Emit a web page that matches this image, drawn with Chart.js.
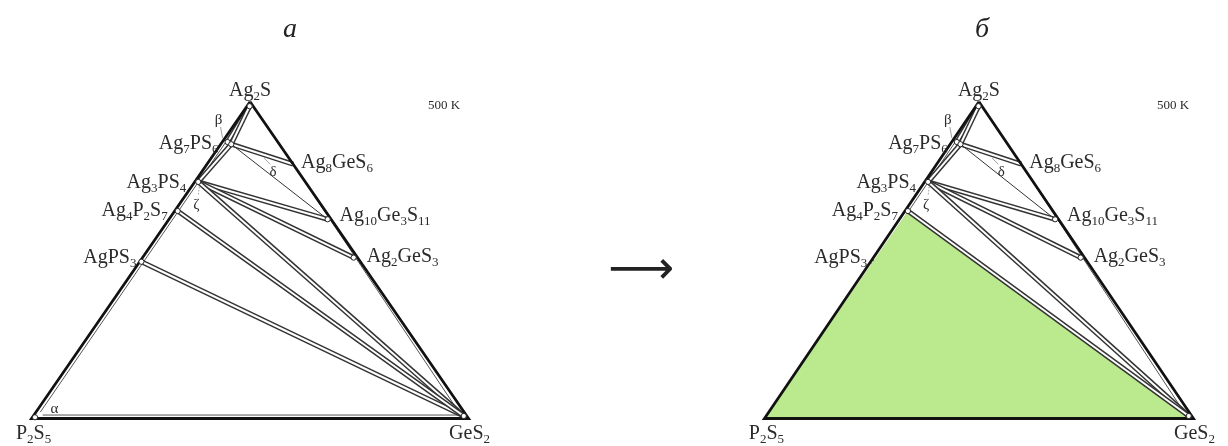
<!DOCTYPE html>
<html>
<head>
<meta charset="utf-8">
<script src="https://cdn.jsdelivr.net/npm/chart.js@4.4.1/dist/chart.umd.min.js"></script>
<style>
  body { margin: 0; background: #fff; }
  #page { position: relative; width: 1228px; height: 446px; overflow: hidden; font-family: "Liberation Serif", serif; color: #222; }
  canvas { position: absolute; top: 0; }
  .tag { position: absolute; top: 14px; font-style: italic; font-size: 28px; line-height: 28px; }
  .arrow { position: absolute; left: 608px; top: 244px; font-family: "DejaVu Sans", sans-serif; font-size: 46px; line-height: 46px; }
</style>
</head>
<body>
<div id="page">
  <canvas id="left" width="560" height="446" style="left:0"></canvas>
  <canvas id="right" width="628" height="446" style="left:600px"></canvas>
  <div class="tag" style="left:283px">а</div>
  <div class="tag" style="left:975px">б</div>
  <div class="arrow">⟶</div>
</div>
<script>
// Ag2S–P2S5–GeS2 isothermal section, 500 K.
// Compositions are mole fractions of Ag2S and GeS2; P2S5 is the remainder.
const cornerNames = ['Ag2S', 'P2S5', 'GeS2'];
const cornerAg2S = [1, 0, 0];
const cornerGeS2 = [0, 0, 1];

const phaseNames = ['Ag2S', 'Ag7PS6', 'β', 'Ag3PS4', 'Ag4P2S7', 'AgPS3', 'Ag8GeS6', 'Ag10Ge3S11', 'Ag2GeS3', 'GeS2', 'P2S5'];
const phaseAg2S  = [0.986, 0.873, 0.866, 0.747, 0.655, 0.495, 0.803, 0.629, 0.508, 0.008, 0.004];
const phaseGeS2  = [0.006, 0.012, 0.024, 0.008, 0.007, 0.004, 0.197, 0.363, 0.483, 0.985, 0.006];
const markedPhases = ['Ag2S', 'Ag7PS6', 'β', 'Ag3PS4', 'Ag4P2S7', 'AgPS3', 'Ag10Ge3S11', 'Ag2GeS3', 'GeS2', 'P2S5'];

// two-phase fields (narrow bands)
const bandFrom = ['Ag2S', 'Ag2S', 'β', 'β', 'Ag3PS4', 'Ag3PS4', 'Ag3PS4', 'Ag4P2S7', 'AgPS3'];
const bandTo   = ['Ag7PS6', 'β', 'Ag3PS4', 'Ag8GeS6', 'Ag10Ge3S11', 'Ag2GeS3', 'GeS2', 'GeS2', 'GeS2'];
// single tie line
const tieFrom = ['β'];
const tieTo = ['Ag10Ge3S11'];

// solid-solution boundaries along the sides
const rimStartAg2S = [0.02, 0.011, 0.803];
const rimStartGeS2 = [0.01, 0.02, 0.197];
const rimEndAg2S   = [0.984, 0.011, 0.02];
const rimEndGeS2   = [0.008, 0.976, 0.968];

// compound labels
const labelNames = ['Ag2S', 'Ag7PS6', 'Ag3PS4', 'Ag4P2S7', 'AgPS3', 'Ag8GeS6', 'Ag10Ge3S11', 'Ag2GeS3', 'P2S5', 'GeS2'];

// highlighted three-phase field on panel б
const fieldPhases = ['P2S5', 'Ag4P2S7', 'GeS2'];

const INK = '#2b2b2b';

function tern(a, g) { return { x: g + a / 2, y: a }; }
function phasePt(name) {
  const i = phaseNames.indexOf(name);
  return tern(phaseAg2S[i], phaseGeS2[i]);
}
function cornerPt(name) {
  const i = cornerNames.indexOf(name);
  return tern(cornerAg2S[i], cornerGeS2[i]);
}

function drawFormula(ctx, text, x, y, align, size) {
  const parts = text.match(/\d+|\D+/g);
  const big = size + 'px "Liberation Serif"';
  const small = Math.round(size * 0.65) + 'px "Liberation Serif"';
  let w = 0;
  parts.forEach(p => { ctx.font = /\d/.test(p) ? small : big; w += ctx.measureText(p).width; });
  let cx = align === 'right' ? x - w : align === 'center' ? x - w / 2 : x;
  ctx.textAlign = 'left';
  ctx.textBaseline = 'alphabetic';
  parts.forEach(p => {
    const sub = /\d/.test(p);
    ctx.font = sub ? small : big;
    ctx.fillText(p, cx, sub ? y + 4 : y);
    cx += ctx.measureText(p).width;
  });
}

// label placement, px offsets from each anchor point
const labelPlace = {
  'Ag2S':       { at: () => cornerPt('Ag2S'), dx: 0, dy: -6, align: 'center' },
  'Ag7PS6':     { at: () => phasePt('Ag7PS6'), dx: -9, dy: 7, align: 'right' },
  'Ag3PS4':     { at: () => phasePt('Ag3PS4'), dx: -12, dy: 6, align: 'right' },
  'Ag4P2S7':    { at: () => phasePt('Ag4P2S7'), dx: -10, dy: 5, align: 'right' },
  'AgPS3':      { at: () => phasePt('AgPS3'), dx: -5, dy: 1, align: 'right' },
  'Ag8GeS6':    { at: () => phasePt('Ag8GeS6'), dx: 8, dy: 4, align: 'left' },
  'Ag10Ge3S11': { at: () => phasePt('Ag10Ge3S11'), dx: 12, dy: 2, align: 'left' },
  'Ag2GeS3':    { at: () => phasePt('Ag2GeS3'), dx: 13, dy: 4, align: 'left' },
  'P2S5':       { at: () => cornerPt('P2S5'), dx: 2, dy: 20, align: 'center' },
  'GeS2':       { at: () => cornerPt('GeS2'), dx: 1, dy: 20, align: 'center' }
};

const textPlugin = {
  id: 'sectionText',
  afterDatasetsDraw(chart) {
    const { ctx, scales: { x, y } } = chart;
    const px = p => ({ x: x.getPixelForValue(p.x), y: y.getPixelForValue(p.y) });
    ctx.save();
    ctx.fillStyle = INK;
    labelNames.forEach(name => {
      const l = labelPlace[name];
      const p = px(l.at());
      drawFormula(ctx, name, p.x + l.dx, p.y + l.dy, l.align, 20);
    });

    // greek phase letters and their leaders
    ctx.font = '15px "Liberation Serif"';
    ctx.textAlign = 'center';
    const b = px(phasePt('Ag7PS6'));
    ctx.fillText('β', b.x - 9, b.y - 18);
    const d = px(phasePt('Ag8GeS6'));
    ctx.fillText('δ', d.x - 20, d.y + 12);
    const z = px(phasePt('Ag3PS4'));
    ctx.fillText('ζ', z.x - 2, z.y + 27);
    if (!chart.options.withField) {
      const a = px(cornerPt('P2S5'));
      ctx.fillText('α', a.x + 23, a.y - 6);
    }

    ctx.strokeStyle = '#888';
    ctx.lineWidth = 0.8;
    ctx.beginPath();
    ctx.moveTo(b.x - 7, b.y - 15); ctx.lineTo(b.x - 5, b.y - 4);
    ctx.moveTo(d.x - 23, d.y); ctx.lineTo(d.x - 29, d.y - 6);
    ctx.stroke();
    ctx.setLineDash([1.5, 1.5]);
    ctx.beginPath();
    ctx.moveTo(z.x + 1, z.y + 5); ctx.lineTo(z.x, z.y + 14);
    ctx.stroke();
    ctx.setLineDash([]);

    // temperature
    const top = px(cornerPt('Ag2S'));
    ctx.font = '13px "Liberation Serif"';
    ctx.textAlign = 'left';
    ctx.fillText('500 K', top.x + 178, top.y + 7);
    ctx.restore();
  }
};

function line(points, color, width) {
  return { data: points, showLine: true, borderColor: color, borderWidth: width,
           pointRadius: 0, fill: false, tension: 0, borderCapStyle: 'butt', borderJoinStyle: 'miter' };
}
function band(from, to) {
  const pts = [phasePt(from), phasePt(to)];
  return [line(pts, '#333', 5), line(pts, '#fff', 2)];
}

function makeChart(id, tri, withField) {
  const canvas = document.getElementById(id);
  const W = canvas.width, H = canvas.height;
  const span = tri.x1 - tri.x0, height = tri.base - tri.top;

  const layers = [];
  rimStartAg2S.forEach((v, i) => {
    layers.push(line([tern(v, rimStartGeS2[i]), tern(rimEndAg2S[i], rimEndGeS2[i])], '#555', 1));
  });
  bandFrom.forEach((f, i) => { if (f === 'AgPS3') layers.push(...band(f, bandTo[i])); });
  if (withField) {
    const pts = fieldPhases.map(n => n === 'Ag4P2S7' ? phasePt(n) : cornerPt(n));
    layers.push({ data: pts, showLine: true, borderWidth: 0, borderColor: 'rgba(0,0,0,0)',
                  backgroundColor: '#bbe98d', pointRadius: 0, fill: 'origin', tension: 0 });
  }
  bandFrom.forEach((f, i) => { if (f !== 'AgPS3') layers.push(...band(f, bandTo[i])); });
  tieFrom.forEach((f, i) => layers.push(line([phasePt(f), phasePt(tieTo[i])], '#333', 1)));
  layers.push(line(['Ag2S', 'P2S5', 'GeS2', 'Ag2S'].map(cornerPt), '#111', 2.8));
  // phases inside the shaded field are hidden by it
  const shown = withField ? markedPhases.filter(n => n !== 'AgPS3' && n !== 'P2S5') : markedPhases;
  layers.push({ data: shown.map(phasePt), showLine: false, pointRadius: 2.6,
                pointBackgroundColor: '#fff', pointBorderColor: '#222', pointBorderWidth: 1 });
  layers.forEach((ds, i) => { ds.order = layers.length - i; });

  return new Chart(canvas, {
    type: 'scatter',
    data: { datasets: layers },
    options: {
      withField,
      responsive: false,
      animation: false,
      devicePixelRatio: 1,
      layout: { padding: 0 },
      plugins: { legend: { display: false }, tooltip: { enabled: false } },
      scales: {
        x: { type: 'linear', display: false, min: -tri.x0 / span, max: (W - tri.x0) / span },
        y: { type: 'linear', display: false, min: -(H - tri.base) / height, max: tri.base / height }
      }
    },
    plugins: [textPlugin]
  });
}

makeChart('left', { x0: 27, x1: 472, top: 99, base: 423 }, false);
makeChart('right', { x0: 162, x1: 598, top: 99, base: 423 }, true);
</script>
</body>
</html>
